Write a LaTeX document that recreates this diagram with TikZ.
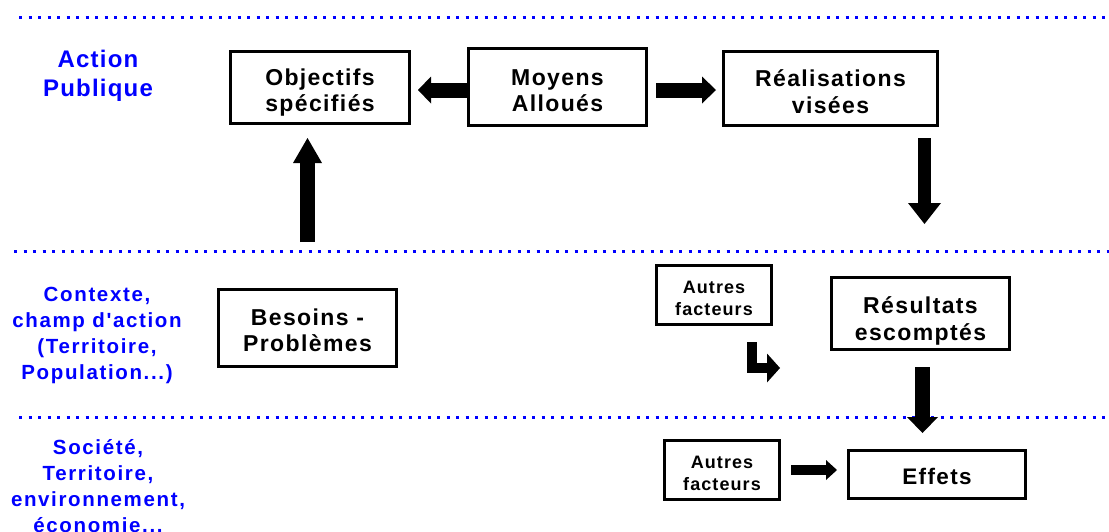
\documentclass[tikz,border=0pt]{standalone}
\usepackage{fontspec}
\setmainfont{Liberation Sans}
\newfontfamily\bxfont[LetterSpace=6]{Liberation Sans}
\newfontfamily\lbfont[LetterSpace=8]{Liberation Sans}
\newfontfamily\bigfont[LetterSpace=5]{Liberation Sans}
\usetikzlibrary{arrows.meta}
\tikzset{
  box/.style={draw=black, line width=3pt, inner sep=0pt, align=center, text depth=0pt,
    font=\bxfont\bfseries\fontsize{23}{26.7}\selectfont},
  smallbox/.style={box, font=\bxfont\bfseries\fontsize{18}{22}\selectfont},
  lbl/.style={text=blue, align=center, inner sep=0pt, anchor=base,
    font=\lbfont\bfseries\fontsize{20.5}{25.7}\selectfont},
  biglbl/.style={lbl, font=\bigfont\bfseries\fontsize{24}{29}\selectfont},
  dotline/.style={blue, line width=3pt, dash pattern=on 3pt off 6.5pt},
  barrow/.style n args={3}{line width=#1, black,
    -{Triangle[width=#2, length=#3, line width=0pt]}}
}
\begin{document}
\begin{tikzpicture}[x=1pt, y=-1pt]
\useasboundingbox (0,0) rectangle (1109,531);

% dotted separators
\coordinate (d1a) at (19,17);  \coordinate (d1b) at (1109,17);
\coordinate (d2a) at (14,251); \coordinate (d2b) at (1109,251);
\coordinate (d3a) at (19,417); \coordinate (d3b) at (1109,417);
\draw[dotline] (d1a) -- (d1b);
\draw[dotline] (d2a) -- (d2b);
\draw[dotline] (d3a) -- (d3b);

% side labels (anchored at the baseline of the last line)
\node[biglbl] (lab1) at (98,96) {Action\\Publique};
\node[lbl] (lab2) at (97,379) {Contexte,\\champ d'action\\(Territoire,\\Population...)};
\node[lbl] (lab3) at (98,532) {Société,\\Territoire,\\environnement,\\économie...};

% boxes
\node[box, minimum width=179pt, minimum height=72pt, text height=48.4pt] (obj) at (320,87.5) {Objectifs\\spécifiés};
\node[box, minimum width=178pt, minimum height=77pt, text height=49.4pt] (moy) at (557.5,87) {Moyens\\Alloués};
\node[box, minimum width=214pt, minimum height=74pt, text height=49.6pt] (real) at (830.5,88.5) {Réalisations\\visées};
\node[box, minimum width=178pt, minimum height=77pt, text height=47.4pt] (bes) at (307.5,328) {Besoins -\\Problèmes};
\node[smallbox, minimum width=115pt, minimum height=59pt, text height=40pt] (af1) at (714,295) {Autres\\facteurs};
\node[box, minimum width=178pt, minimum height=72pt, text height=53pt] (res) at (920.5,313.5) {Résultats\\escomptés};
\node[smallbox, minimum width=115pt, minimum height=59pt, text height=40pt] (af2) at (722,470) {Autres\\facteurs};
\node[box, minimum width=177pt, minimum height=48pt, text height=19pt, font=\bxfont\bfseries\fontsize{22.5}{26}\selectfont] (eff) at (937,474.5) {Effets};

% free ends
\coordinate (realend) at (924.5,224);
\coordinate (bendtip) at (780,368);

% block arrows
\draw[barrow={15pt}{27pt}{13pt}, shorten <=-2pt, shorten >=7pt]
  ([yshift=-3pt]moy.west) -- ([yshift=-3pt]moy.west -| obj.east);
\draw[barrow={15pt}{27pt}{14pt}, shorten <=8pt, shorten >=6pt]
  ([yshift=-3pt]moy.east) -- ([yshift=-3pt]moy.east -| real.west);
\draw[barrow={15pt}{29pt}{25pt}, shorten <=46pt, shorten >=13pt]
  (bes.north) -- (bes.north |- obj.south);
\draw[barrow={13pt}{33pt}{21pt}, shorten <=11pt]
  (real.south -| realend) -- (realend);
\draw[barrow={15pt}{31pt}{16pt}, shorten <=16pt, shorten >=16pt]
  ([xshift=2pt]res.south) -- ([xshift=2pt]res.south |- eff.north);
\draw[barrow={10pt}{20pt}{11pt}, shorten <=10pt, shorten >=10pt]
  (af2.east) -- (af2.east -| eff.west);
\draw[barrow={10pt}{29pt}{13pt}, shorten <=16pt, line join=miter]
  ([xshift=38pt]af1.south) |- (bendtip);
\end{tikzpicture}
\end{document}
